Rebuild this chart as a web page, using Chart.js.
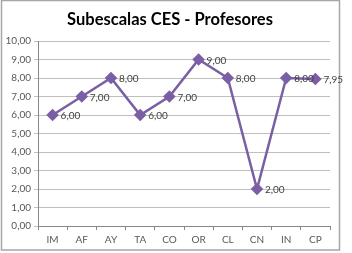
<!DOCTYPE html>
<html>
<head>
<meta charset="utf-8">
<script src="https://cdn.jsdelivr.net/npm/chart.js@4/dist/chart.umd.min.js"></script>
<style>
  html, body { margin: 0; padding: 0; background: #fff; }
  #wrap { width: 352px; height: 253px; position: relative; }
</style>
</head>
<body>
<div id="wrap"><canvas id="chart" width="352" height="253"></canvas></div>
<script>
const categories = ["IM", "AF", "AY", "TA", "CO", "OR", "CL", "CN", "IN", "CP"];
const values = [6.0, 7.0, 8.0, 6.0, 7.0, 9.0, 8.0, 2.0, 8.0, 7.95];
const chartTitle = "Subescalas CES - Profesores";

const fmt = (v) => v.toFixed(2).replace(".", ",");

// outer frame like the spreadsheet chart box, plus the title
const framePlugin = {
  id: "frame",
  beforeDraw(chart) {
    const ctx = chart.ctx;
    ctx.save();
    ctx.fillStyle = "#ffffff";
    ctx.fillRect(0, 0, chart.width, chart.height);
    ctx.strokeStyle = "#a6a6a6";
    ctx.lineWidth = 1.5;
    ctx.strokeRect(1.5, 0.5, 338, 249.5);
    ctx.font = "bold 16.5px Lato";
    ctx.fillStyle = "#000000";
    ctx.textAlign = "center";
    ctx.textBaseline = "middle";
    ctx.fillText(chartTitle, 170, 20);
    ctx.restore();
  },
};

// value labels to the right of each point
const labelPlugin = {
  id: "valueLabels",
  afterDatasetsDraw(chart) {
    const ctx = chart.ctx;
    const meta = chart.getDatasetMeta(0);
    ctx.save();
    ctx.font = "10px Lato";
    ctx.fillStyle = "#404040";
    ctx.textAlign = "left";
    ctx.textBaseline = "middle";
    meta.data.forEach((pt, i) => {
      ctx.fillText(fmt(values[i]), pt.x + 8, pt.y + 1);
    });
    ctx.restore();
  },
};

new Chart(document.querySelector("#chart"), {
  type: "line",
  data: {
    labels: categories,
    datasets: [
      {
        data: values,
        borderColor: "#7b5fa4",
        backgroundColor: "#7b5fa4",
        borderWidth: 2.5,
        pointStyle: "rectRot",
        pointRadius: 4.5,
        pointHoverRadius: 4.5,
        tension: 0,
        fill: false,
      },
    ],
  },
  options: {
    responsive: false,
    animation: false,
    events: [],
    layout: { padding: { left: 0, right: 22, top: 41, bottom: 0 } },
    plugins: {
      legend: { display: false },
      tooltip: { enabled: false },
      title: { display: false },
    },
    scales: {
      x: {
        offset: true,
        grid: {
          offset: true,
          drawOnChartArea: false,
          drawTicks: true,
          tickLength: 4,
          color: "#868686",
        },
        border: { color: "#868686", width: 1 },
        ticks: {
          color: "#595959",
          font: { family: "Lato", size: 10 },
          padding: 4,
          maxRotation: 0,
        },
        afterFit(scale) { scale.height = 27; },
      },
      y: {
        min: 0,
        max: 10,
        ticks: {
          stepSize: 1,
          color: "#595959",
          font: { family: "Lato", size: 10 },
          padding: 3,
          callback: (v) => fmt(v),
        },
        grid: {
          color: "#bfbfbf",
          tickLength: 4,
          drawTicks: true,
        },
        border: { color: "#868686", width: 1 },
        afterFit(scale) { scale.width = 38; },
      },
    },
  },
  plugins: [framePlugin, labelPlugin],
});
</script>
</body>
</html>
